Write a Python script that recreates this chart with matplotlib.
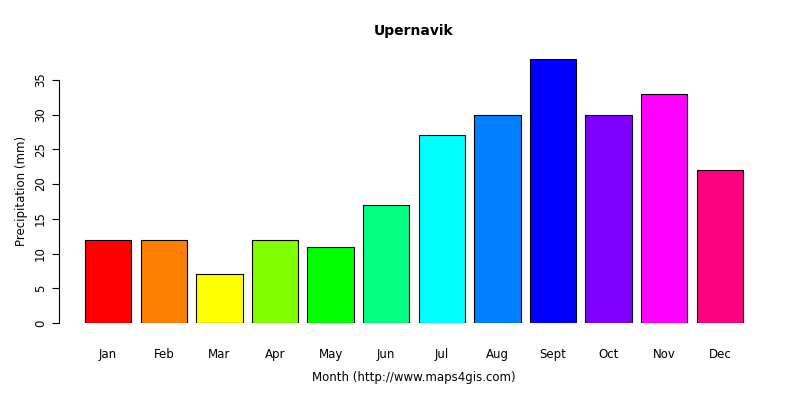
import matplotlib
matplotlib.use("Agg")
import matplotlib.pyplot as plt
import numpy as np

months = ["Jan","Feb","Mar","Apr","May","Jun","Jul","Aug","Sept","Oct","Nov","Dec"]
precip = [12,12,7,12,11,17,27,30,38,30,33,22]
colors = ["#FF0000","#FF8000","#FFFF00","#80FF00","#00FF00","#00FF80",
          "#00FFFF","#0080FF","#0000FF","#8000FF","#FF00FF","#FF0080"]
yticks = [0,5,10,15,20,25,30,35]

fig = plt.figure(figsize=(8,4), dpi=100)
ax = fig.add_axes([58.7/800, 77/400, 710.6/800, 264/400])
x = 0.7 + 1.2*np.arange(len(months))
ax.bar(x, precip, width=1.0, color=colors, edgecolor="black", linewidth=0.8)
ax.set_xlim(-0.368, 14.968)
ax.set_ylim(0, 38)
for s in ["top","right","bottom"]:
    ax.spines[s].set_visible(False)
ax.spines["left"].set_bounds(0, 35)
ax.spines["left"].set_position(("outward", 0))
ax.set_yticks(yticks)
ax.set_yticklabels([str(v) for v in yticks], rotation=90, va="center", fontsize=8.5)
ax.set_xticks(x)
ax.set_xticklabels(months, fontsize=8.5)
ax.tick_params(axis="x", length=0, pad=18)
ax.tick_params(axis="y", length=5)
ax.set_ylabel("Precipitation (mm)", fontsize=8.5)
fig.text(414/800, 1-378/400, "Month (http://www.maps4gis.com)", ha="center", va="center", fontsize=8.5)
fig.text(414/800, 1-31/400, "Upernavik", ha="center", va="center", fontsize=10, fontweight="bold")
fig.savefig("out.png", dpi=100, facecolor="white")
